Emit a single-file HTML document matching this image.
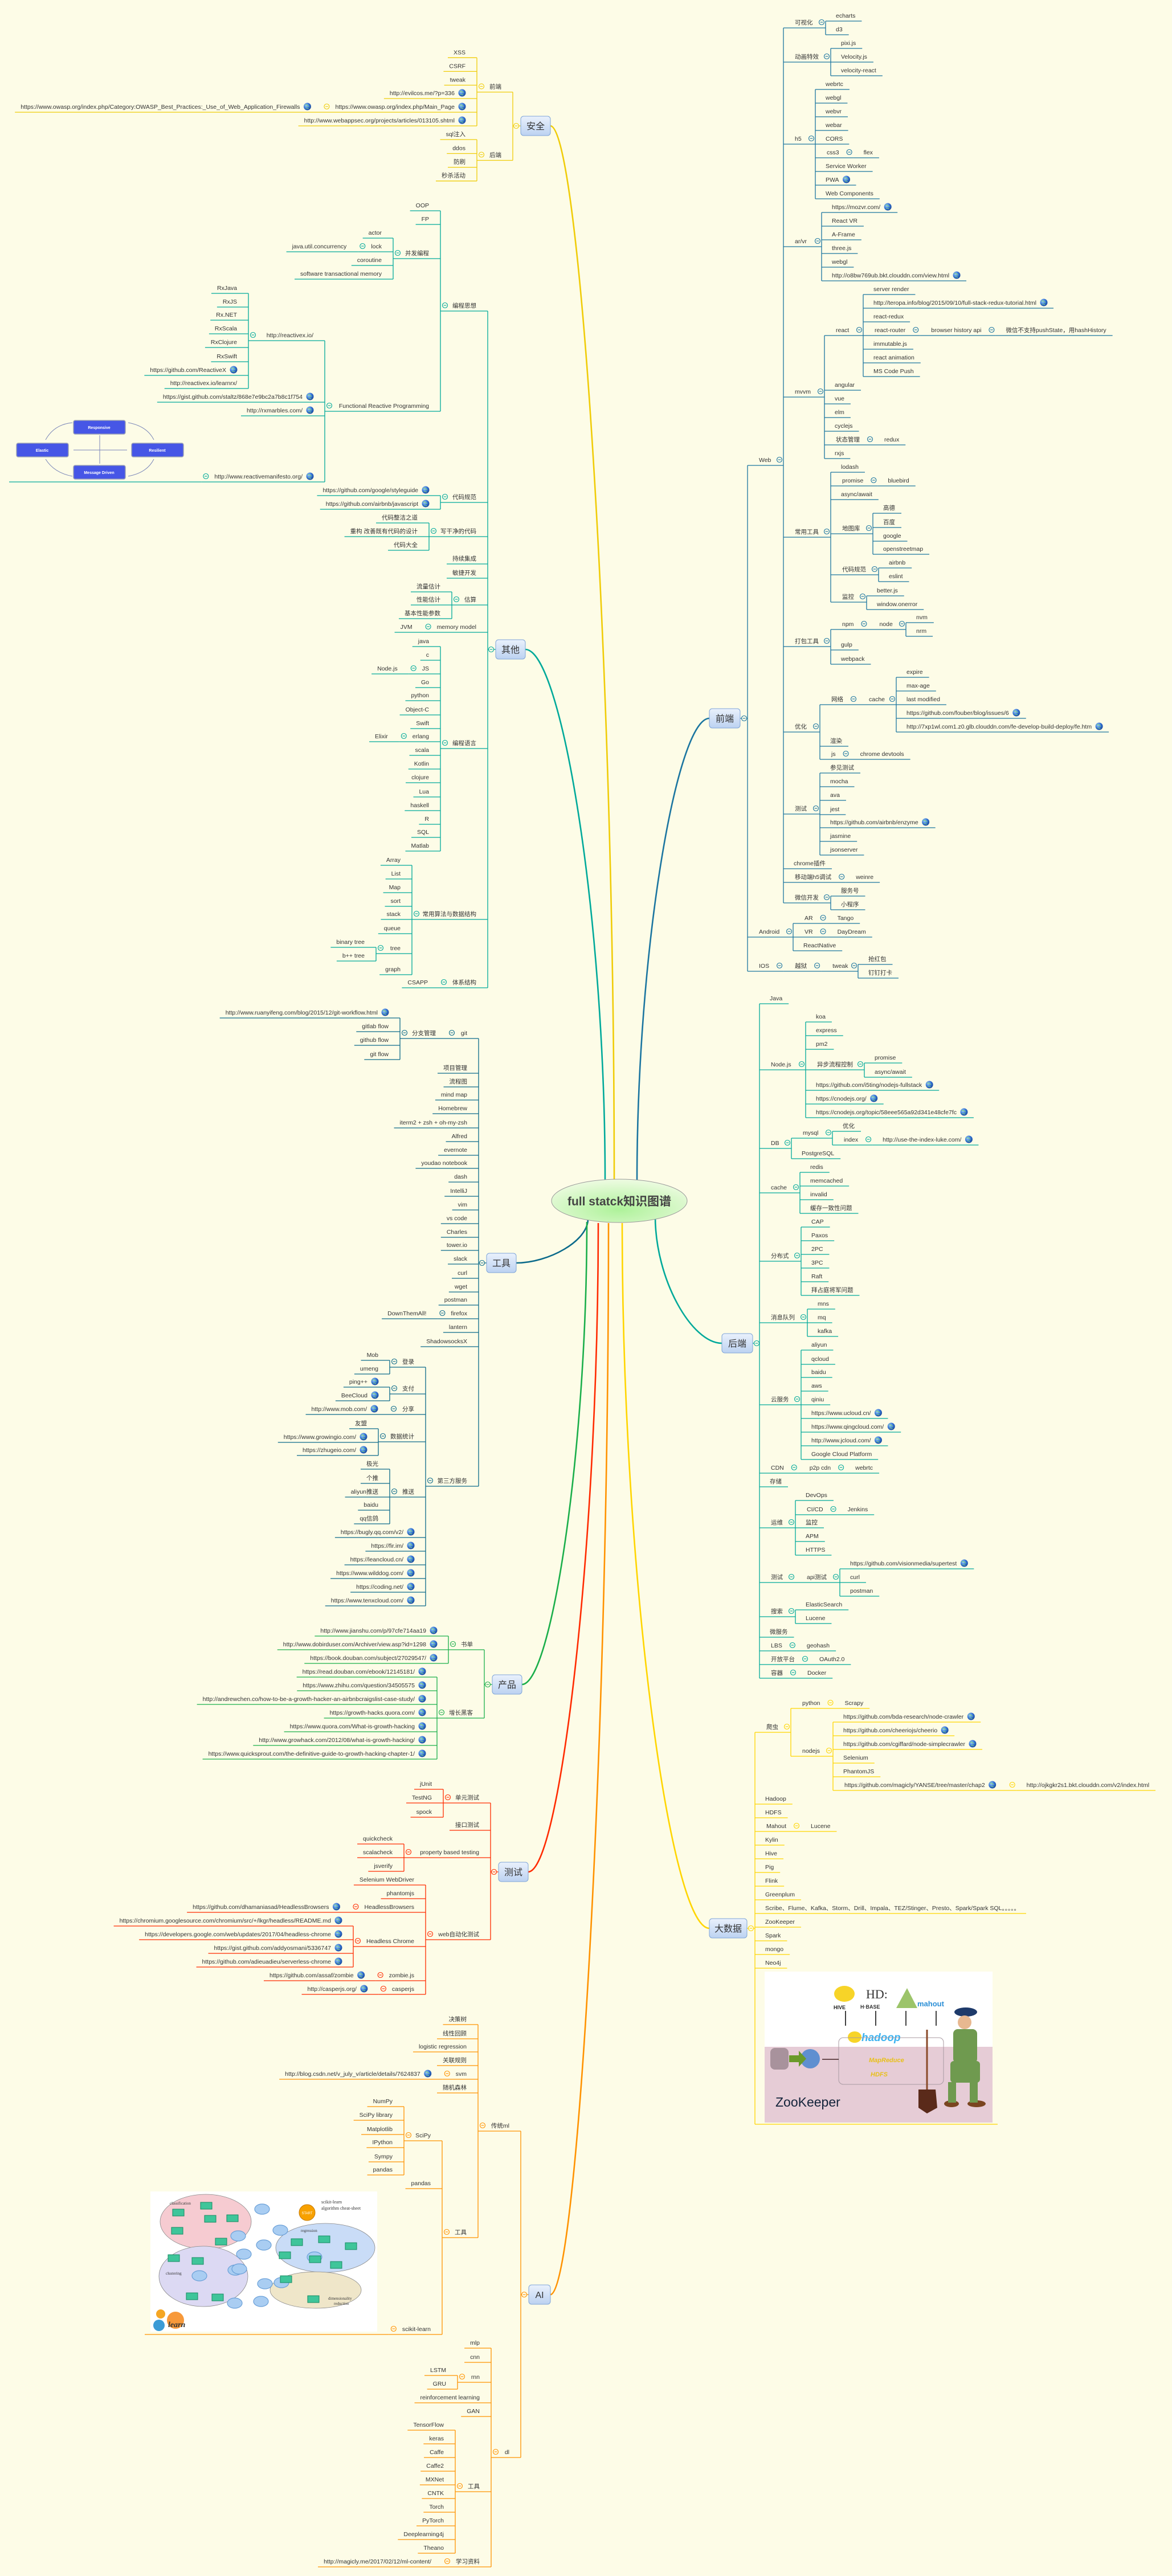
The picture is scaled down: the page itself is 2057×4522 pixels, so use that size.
<!DOCTYPE html>
<html><head><meta charset="utf-8">
<style>
html,body{margin:0;padding:0;background:#fdfce7;}
svg{display:block;}
.t{font-family:"Liberation Sans","Noto Sans CJK SC",sans-serif;font-size:10.5px;fill:#333;}
.m{font-family:"Liberation Sans","Noto Sans CJK SC",sans-serif;font-size:16px;fill:#333;}
</style></head>
<body>
<svg id="s" xmlns="http://www.w3.org/2000/svg" width="2057" height="4522" viewBox="0 0 2057 4522">
<defs>
<radialGradient id="gl" cx="0.35" cy="0.35" r="0.7"><stop offset="0" stop-color="#9fd0ff"/><stop offset="0.6" stop-color="#2f6fd0"/><stop offset="1" stop-color="#1c4a9a"/></radialGradient>
<linearGradient id="bx" x1="0" y1="0" x2="0" y2="1"><stop offset="0" stop-color="#eaf1fc"/><stop offset="1" stop-color="#bcd2f1"/></linearGradient>
<radialGradient id="cg" cx="0.5" cy="0.7" r="0.7"><stop offset="0" stop-color="#aef29a"/><stop offset="1" stop-color="#eefbe2"/></radialGradient>
</defs>
<rect width="2057" height="4522" fill="#fdfce7"/>
</svg>
<script>
const NS='http://www.w3.org/2000/svg';
const svg=document.getElementById('s');
function el(tag,a,p){const e=document.createElementNS(NS,tag);for(const k in a)e.setAttribute(k,a[k]);(p||svg).appendChild(e);return e;}
function tx(x,y,t,anchor,cls,extra){const e=el('text',Object.assign({x:x,y:y,class:cls||'t','text-anchor':anchor||'start'},extra||{}));e.textContent=t;return e;}
function N(t,y,k,b,g){return {t:t,y:y,k:k,b:b,g:g};}
function G(t,y){return {t:t,y:y,g:true};}
function measure(t){const e=tx(0,-100,t);const w=e.getComputedTextLength();e.remove();return w;}
function globe(x,y){el('circle',{cx:x,cy:y,r:6.5,fill:'url(#gl)'});el('path',{d:`M${x-4} ${y-2}q2 -2 4 0t3 2M${x-3} ${y+3}q2 -1 5 1`,stroke:'#7fd07f','stroke-width':1.2,fill:'none'});}
function icon(x,y,c){el('circle',{cx:x,cy:y,r:4.5,fill:'#fdfce7',stroke:c,'stroke-width':1.1});el('line',{x1:x-2.4,y1:y,x2:x+2.4,y2:y,stroke:c,'stroke-width':1.1});}
function hl(x1,x2,y,c){el('line',{x1:x1,x2:x2,y1:y,y2:y,stroke:c,'stroke-width':1.3});}
function vl(x,y1,y2,c){el('line',{x1:x,x2:x,y1:y1,y2:y2,stroke:c,'stroke-width':1.3});}

function draw(n,edge,side,c){
  const U=n.y+10;
  if(n.img){hl(Math.min(n.x1,edge),Math.max(n.x1,edge),U,c);n.img();return U;}
  const w=measure(n.t);const kids=n.k&&n.k.length;
  let xl,xr;
  if(side<0){
    xr=edge;const gw=n.g?19:0;const tr=xr-20-gw;const tl=tr-w;
    tx(tr,n.y+4,n.t,'end');
    if(n.g)globe(xr-26,n.y);
    if(kids){xl=(n.b!=null)?n.b:tl-23;icon(xl+8,n.y,c);}else xl=tl-10;
  }else{
    xl=edge;const tl=xl+(kids?20:18);tx(tl,n.y+4,n.t,'start');
    let after=tl+w;
    if(n.g){globe(after+13,n.y);after+=30;}else if(!kids)after+=11;
    if(kids){xr=(n.b!=null)?n.b:after+25;icon(xr-7,n.y,c);}else xr=after;
  }
  hl(xl,xr,U,c);
  if(kids){
    const bx=side<0?xl:xr;let mn=U,mx=U;
    for(const ch of n.k){const u=draw(ch,bx,side,c);mn=Math.min(mn,u);mx=Math.max(mx,u);}
    vl(bx,mn,mx,c);
  }
  return U;
}
function main(m){
  const [x1,y1,x2,y2]=m.box;const cy=(y1+y2)/2;
  const ex=m.side<0?x2:x1;
  const [sx,sy]=m.start;
  el('path',{d:`M${sx} ${sy} C${sx} ${(sy+cy)/2} ${ex+(sx-ex)*0.45} ${cy} ${ex} ${cy}`,stroke:m.c,'stroke-width':2.6,fill:'none'});
  let mn=cy,mx=cy;
  for(const ch of m.k){const u=draw(ch,m.edge,m.side,m.c);mn=Math.min(mn,u);mx=Math.max(mx,u);}
  vl(m.edge,mn,mx,m.c);
  const bx=m.side<0?x1:x2;
  hl(Math.min(bx,m.edge),Math.max(bx,m.edge),cy,m.c);
  el('rect',{x:x1,y:y1,width:x2-x1,height:y2-y1,rx:5,fill:'url(#bx)',stroke:'#7ea5d8','stroke-width':1});
  tx((x1+x2)/2,cy+6,m.t,'middle','m');
  icon(m.side<0?x1-8:x2+7,cy,m.c);
}

/* ---------- images ---------- */
function imgRM(){
  const g=el('g',{});
  const arc='#7a86b8';
  el('path',{d:'M80 772 Q95 745 127 742',stroke:arc,fill:'none','stroke-width':1},g);
  el('path',{d:'M225 742 Q258 748 270 772',stroke:arc,fill:'none','stroke-width':1},g);
  el('path',{d:'M80 806 Q95 830 127 836',stroke:arc,fill:'none','stroke-width':1},g);
  el('path',{d:'M225 836 Q258 830 270 806',stroke:arc,fill:'none','stroke-width':1},g);
  el('line',{x1:175,y1:764,x2:175,y2:814,stroke:arc,'stroke-width':1},g);
  el('line',{x1:129,y1:790,x2:223,y2:790,stroke:arc,'stroke-width':1},g);
  const bs=[[129,738,'Responsive'],[29,778,'Elastic'],[231,778,'Resilient'],[129,817,'Message Driven']];
  for(const b of bs){el('rect',{x:b[0],y:b[1],width:91,height:24,rx:3,fill:'#4656e6',stroke:'#9aa0b5','stroke-width':1.5},g);
    tx(b[0]+45,b[1]+15,b[2],'middle','t',{style:'font-size:7px;font-weight:bold;fill:#fff'});}
}
function imgSK(){
  el('rect',{x:264,y:3847,width:398,height:246,fill:'#ffffff'});
  el('ellipse',{cx:361,cy:3900,rx:80,ry:48,fill:'#f6cbd1',stroke:'#888','stroke-width':0.8});
  el('ellipse',{cx:357,cy:3996,rx:78,ry:53,fill:'#dcd9f3',stroke:'#888','stroke-width':0.8});
  el('ellipse',{cx:571,cy:3946,rx:87,ry:43,fill:'#c9dcf7',stroke:'#888','stroke-width':0.8});
  el('ellipse',{cx:554,cy:4020,rx:80,ry:32,fill:'#efe6c9',stroke:'#888','stroke-width':0.8});
  el('circle',{cx:539,cy:3884,r:14,fill:'#f8a100',stroke:'#c77a00'});
  tx(539,3887,'START','middle','t',{style:'font-size:6px;fill:#fff'});
  tx(564,3868,'scikit-learn','start','t',{style:'font-family:Liberation Serif,serif;font-size:8px'});
  tx(564,3879,'algorithm cheat-sheet','start','t',{style:'font-family:Liberation Serif,serif;font-size:8px'});
  tx(298,3870,'classification','start','t',{style:'font-family:Liberation Serif,serif;font-size:7px'});
  tx(291,3993,'clustering','start','t',{style:'font-family:Liberation Serif,serif;font-size:7px'});
  tx(528,3918,'regression','start','t',{style:'font-family:Liberation Serif,serif;font-size:7px'});
  tx(576,4037,'dimensionality','start','t',{style:'font-family:Liberation Serif,serif;font-size:7px'});
  tx(586,4046,'reduction','start','t',{style:'font-family:Liberation Serif,serif;font-size:7px'});
  const bl=[[460,3878],[492,3915],[463,3941],[428,3957],[418,3925],[350,3995],[413,3985],[412,4043],[458,4040],[465,4009],[494,4007],[552,3962],[420,3983]];
  for(const b of bl)el('ellipse',{cx:b[0],cy:b[1],rx:13,ry:9,fill:'#a9cdf2',stroke:'#6aa0d8','stroke-width':1.2});
  const gb=[[352,3866],[303,3878],[359,3889],[398,3888],[301,3910],[378,3929],[295,3958],[337,3963],[327,4025],[372,4027],[511,3930],[559,3925],[606,3937],[580,3970],[490,3953],[543,3960],[540,4030],[492,3995]];
  for(const b of gb)el('rect',{x:b[0],y:b[1],width:20,height:12,fill:'#3fc59a',stroke:'#148a60','stroke-width':1});
  el('circle',{cx:308,cy:4073,r:15,fill:'#f7993a'});
  el('circle',{cx:279,cy:4082,r:10,fill:'#3b9bd6'});
  el('circle',{cx:282,cy:4062,r:8,fill:'#f5a623'});
  tx(295,4085,'learn','start','t',{style:'font-family:Liberation Serif,serif;font-style:italic;font-weight:bold;font-size:14px;fill:#333'});
}
function imgZK(){
  el('rect',{x:1342,y:3461,width:400,height:132,fill:'#ffffff'});
  el('rect',{x:1342,y:3593,width:400,height:133,fill:'#e6ccd6'});
  tx(1361,3698,'ZooKeeper','start','t',{style:'font-size:23px;fill:#13233a'});
  tx(1463,3527,'HIVE','start','t',{style:'font-size:9px;font-weight:bold;fill:#222'});
  el('ellipse',{cx:1482,cy:3500,rx:18,ry:14,fill:'#f7d428'});
  tx(1510,3526,'H·BASE','start','t',{style:'font-size:9px;font-weight:bold;fill:#333'});
  tx(1520,3508,'HD:','start','t',{style:'font-size:22px;font-family:Liberation Serif,serif;fill:#333'});
  el('polygon',{points:'1573,3525 1610,3525 1592,3490',fill:'#9cc46a'});
  tx(1610,3522,'mahout','start','t',{style:'font-size:13px;font-weight:bold;fill:#2c8fd6'});
  for(const x of [1484,1537,1590,1643]){el('line',{x1:x,y1:3530,x2:x,y2:3556,stroke:'#000','stroke-width':1.5});}
  tx(1512,3583,'hadoop','start','t',{style:'font-size:19px;font-weight:bold;font-style:italic;fill:#3db3f0'});
  el('ellipse',{cx:1500,cy:3576,rx:12,ry:10,fill:'#f7d428'});
  el('rect',{x:1472,y:3577,width:184,height:82,rx:8,fill:'none',stroke:'#a89aa2'});
  tx(1525,3620,'MapReduce','start','t',{style:'font-size:11px;font-weight:bold;font-style:italic;fill:#e8c019'});
  tx(1528,3645,'HDFS','start','t',{style:'font-size:11px;font-weight:bold;font-style:italic;fill:#e8c019'});
  el('rect',{x:1352,y:3595,width:32,height:38,rx:8,fill:'#a8929c'});
  el('circle',{cx:1422,cy:3614,r:17,fill:'#5f8fd0'});
  el('polygon',{points:'1385,3608 1402,3608 1402,3600 1415,3614 1402,3628 1402,3620 1385,3620',fill:'#6a9a2a'});
  el('line',{x1:1443,y1:3615,x2:1472,y2:3615,stroke:'#200','stroke-width':1.3});
  el('line',{x1:1627,y1:3563,x2:1627,y2:3700,stroke:'#8a4a2a','stroke-width':3});
  el('path',{d:'M1612 3668 L1642 3668 L1645 3700 L1627 3710 L1612 3700Z',fill:'#5a2a1a'});
  el('ellipse',{cx:1695,cy:3532,rx:20,ry:8,fill:'#1e3a6a'});
  el('circle',{cx:1693,cy:3550,r:12,fill:'#e8b890'});
  el('rect',{x:1673,y:3562,width:42,height:60,rx:8,fill:'#6f9a4f'});
  el('rect',{x:1668,y:3618,width:52,height:38,rx:6,fill:'#6f9a4f'});
  el('ellipse',{cx:1670,cy:3693,rx:13,ry:6,fill:'#7a4520'});
  el('ellipse',{cx:1714,cy:3693,rx:16,ry:6,fill:'#7a4520'});
  el('rect',{x:1664,y:3655,width:14,height:36,fill:'#6f9a4f'});
  el('rect',{x:1702,y:3655,width:14,height:36,fill:'#6f9a4f'});
}

/* ---------- data ---------- */
const mains=[
{t:'安全',side:-1,box:[914,204,966,238],edge:900,c:'#f0cc08',start:[1078,2072],k:[
 N('前端',151.6,[N('XSS',91.3),N('CSRF',115.4),N('tweak',139.5),G('http://evilcos.me/?p=336',163),
   N('https://www.owasp.org/index.php/Main_Page',187,[G('https://www.owasp.org/index.php/Category:OWASP_Best_Practices:_Use_of_Web_Application_Firewalls',187)],null,true),
   G('http://www.webappsec.org/projects/articles/013105.shtml',211)],837),
 N('后端',271.5,[N('sql注入',235),N('ddos',259.5),N('防刷',283.6),N('秒杀活动',307.7)],837)
]},
{t:'其他',side:-1,box:[870,1123,922,1157],edge:856,c:'#00a99a',start:[1062,2072],k:[
 N('编程思想',536,[N('OOP',360),N('FP',384),
  N('并发编程',444,[N('actor',408),N('lock',432,[N('java.util.concurrency',432)]),N('coroutine',456),N('software transactional memory',480)],690),
  N('Functional Reactive Programming',712,[
   N('http://reactivex.io/',588,[N('RxJava',505),N('RxJS',529),N('Rx.NET',552),N('RxScala',576),N('RxClojure',600),N('RxSwift',625),G('https://github.com/ReactiveX',649),N('http://reactivex.io/learnrx/',672)],436),
   G('https://gist.github.com/staltz/868e7e9bc2a7b8c1f754',696),
   G('http://rxmarbles.com/',720),
   N('http://www.reactivemanifesto.org/',836,[{img:imgRM,y:836,x1:16}],null,true)
  ],570)
 ],773),
 N('代码规范',872,[G('https://github.com/google/styleguide',860),G('https://github.com/airbnb/javascript',884)],773),
 N('写干净的代码',932,[N('代码整洁之道',908),N('重构 改善既有代码的设计',932),N('代码大全',956)],753),
 N('持续集成',980),N('敏捷开发',1005),
 N('估算',1052,[N('流量估计',1029),N('性能估计',1052),N('基本性能参数',1076)],793),
 N('memory model',1100,[N('JVM',1100)]),
 N('编程语言',1304,[N('java',1125),N('c',1149),N('JS',1173,[N('Node.js',1173)]),N('Go',1197),N('python',1220),N('Object-C',1245),N('Swift',1269),N('erlang',1292,[N('Elixir',1292)]),N('scala',1316),N('Kotlin',1340),N('clojure',1364),N('Lua',1389),N('haskell',1413),N('R',1437),N('SQL',1460),N('Matlab',1484)],773),
 N('常用算法与数据结构',1604,[N('Array',1509),N('List',1533),N('Map',1557),N('sort',1581),N('stack',1604),N('queue',1629),N('tree',1664,[N('binary tree',1653),N('b++ tree',1677)],660),N('graph',1701)],723),
 N('体系结构',1724,[N('CSAPP',1724)])
]},
{t:'工具',side:-1,box:[854,2200,906,2234],edge:840,c:'#0b6a8a',start:[1032,2140],k:[
 N('git',1813,[N('分支管理',1813,[G('http://www.ruanyifeng.com/blog/2015/12/git-workflow.html',1777),N('gitlab flow',1801),N('github flow',1825),N('git flow',1850)],702)],785),
 N('项目管理',1874),N('流程图',1898),N('mind map',1921),N('Homebrew',1945),N('iterm2 + zsh + oh-my-zsh',1970),N('Alfred',1994),N('evernote',2018),N('youdao notebook',2041),N('dash',2065),N('IntelliJ',2090),N('vim',2114),N('vs code',2138),N('Charles',2162),N('tower.io',2185),N('slack',2209),N('curl',2234),N('wget',2258),N('postman',2281),N('firefox',2305,[N('DownThemAll!',2305)]),N('lantern',2329),N('ShadowsocksX',2354),
 N('第三方服务',2599,[
  N('登录',2390,[N('Mob',2378),N('umeng',2402)],684),
  N('支付',2437,[G('ping++',2425),G('BeeCloud',2449)],684),
  N('分享',2473,[G('http://www.mob.com/',2473)]),
  N('数据统计',2521,[N('友盟',2498),G('https://www.growingio.com/',2522),G('https://zhugeio.com/',2545)],664),
  N('推送',2618,[N('极光',2569),N('个推',2594),N('aliyun推送',2618),N('baidu',2641),N('qq信鸽',2665)],684),
  G('https://bugly.qq.com/v2/',2689),G('https://fir.im/',2713),G('https://leancloud.cn/',2737),G('https://www.wilddog.com/',2761),G('https://coding.net/',2785),G('https://www.tenxcloud.com/',2809)
 ],747)
]},
{t:'产品',side:-1,box:[864,2940,916,2974],edge:850,c:'#1aae4a',start:[1030,2145],k:[
 N('书单',2886,[G('http://www.jianshu.com/p/97cfe714aa19',2862),G('http://www.dobirduser.com/Archiver/view.asp?id=1298',2886),G('https://book.douban.com/subject/27029547/',2910)],787),
 N('增长黑客',3006,[G('https://read.douban.com/ebook/12145181/',2934),G('https://www.zhihu.com/question/34505575',2958),G('http://andrewchen.co/how-to-be-a-growth-hacker-an-airbnbcraigslist-case-study/',2982),G('https://growth-hacks.quora.com/',3006),G('https://www.quora.com/What-is-growth-hacking',3030),G('http://www.growhack.com/2012/08/what-is-growth-hacking/',3054),G('https://www.quicksprout.com/the-definitive-guide-to-growth-hacking-chapter-1/',3078)],767)
]},
{t:'测试',side:-1,box:[875,3269,927,3303],edge:861,c:'#ff2a00',start:[1050,2147],k:[
 N('单元测试',3155,[N('jUnit',3131),N('TestNG',3155),N('spock',3180)],778),
 N('接口测试',3203),
 N('property based testing',3251,[N('quickcheck',3227),N('scalacheck',3251),N('jsverify',3275)],709),
 N('web自动化测试',3395,[N('Selenium WebDriver',3299),N('phantomjs',3323),N('HeadlessBrowsers',3347,[G('https://github.com/dhamaniasad/HeadlessBrowsers',3347)]),
  N('Headless Chrome',3407,[G('https://chromium.googlesource.com/chromium/src/+/lkgr/headless/README.md',3371),G('https://developers.google.com/web/updates/2017/04/headless-chrome',3395),G('https://gist.github.com/addyosmani/5336747',3419),G('https://github.com/adieuadieu/serverless-chrome',3443)],620),
  N('zombie.js',3467,[G('https://github.com/assaf/zombie',3467)]),N('casperjs',3491,[G('http://casperjs.org/',3491)])],747)
]},
{t:'AI',side:-1,box:[928,4011,966,4045],edge:914,c:'#ff9200',start:[1068,2147],k:[
 N('传统ml',3731,[N('决策树',3544),N('线性回顾',3569),N('logistic regression',3592),N('关联规则',3616),N('svm',3640,[G('http://blog.csdn.net/v_july_v/article/details/7624837',3640)]),N('随机森林',3664),
  N('工具',3918,[N('SciPy',3748,[N('NumPy',3688),N('SciPy library',3712),N('Matplotlib',3737),N('IPython',3760),N('Sympy',3785),N('pandas',3808)],709),N('pandas',3832),N('scikit-learn',4088,[{img:imgSK,y:4088,x1:254}])],776)
 ],839),
 N('dl',4304,[N('mlp',4112),N('cnn',4137),N('rnn',4172,[N('LSTM',4160),N('GRU',4184)],803),N('reinforcement learning',4208),N('GAN',4232),
  N('工具',4364,[N('TensorFlow',4256),N('keras',4280),N('Caffe',4304),N('Caffe2',4328),N('MXNet',4352),N('CNTK',4376),N('Torch',4400),N('PyTorch',4424),N('Deeplearning4j',4448),N('Theano',4472)],799),
  N('学习资料',4496,[N('http://magicly.me/2017/02/12/ml-content/',4496)])],862)
]},
{t:'前端',side:1,box:[1245,1244,1299,1278],edge:1312,c:'#1b75a0',start:[1118,2072],k:[
 N('Web',807,[
  N('可视化',39,[N('echarts',27),N('d3',51)],1449),
  N('动画特效',99,[N('pixi.js',75),N('Velocity.js',99),N('velocity-react',123)],1458),
  N('h5',243,[N('webrtc',147),N('webgl',171),N('webvr',195),N('webar',219),N('CORS',243),N('css3',267,[N('flex',267)]),N('Service Worker',291),G('PWA',315),N('Web Components',339)],1431),
  N('ar/vr',423,[G('https://mozvr.com/',363),N('React VR',387),N('A-Frame',411),N('three.js',435),N('webgl',459),G('http://o8bw769ub.bkt.clouddn.com/view.html',483)],1442),
  N('mvvm',687,[
   N('react',579,[N('server render',507),G('http://teropa.info/blog/2015/09/10/full-stack-redux-tutorial.html',531),N('react-redux',555),N('react-router',579,[N('browser history api',579,[N('微信不支持pushState，用hashHistory',579)])]),N('immutable.js',603),N('react animation',627),N('MS Code Push',651)],1515),
   N('angular',675),N('vue',699),N('elm',723),N('cyclejs',747),N('状态管理',771,[N('redux',771)]),N('rxjs',795)
  ],1447),
  N('常用工具',933,[N('lodash',819),N('promise',843,[N('bluebird',843)]),N('async/await',867),
   N('地图库',927,[N('高德',891),N('百度',916),N('google',940),N('openstreetmap',963)],1532),
   N('代码规范',999,[N('airbnb',987),N('eslint',1011)],1542),
   N('监控',1047,[N('better.js',1036),N('window.onerror',1060)],1521)],1458),
  N('打包工具',1125,[N('npm',1095,[N('node',1095,[N('nvm',1083),N('nrm',1107)],1590)]),N('gulp',1131),N('webpack',1156)],1458),
  N('优化',1275,[N('网络',1227,[N('cache',1227,[N('expire',1179),N('max-age',1203),N('last modified',1227),G('https://github.com/fouber/blog/issues/6',1251),G('http://7xp1wl.com1.z0.glb.clouddn.com/fe-develop-build-deploy/fe.htm',1275)],1573)]),N('渲染',1300),N('js',1323,[N('chrome devtools',1323)])],1439),
  N('测试',1419,[N('参见测试',1347),N('mocha',1371),N('ava',1395),N('jest',1420),G('https://github.com/airbnb/enzyme',1443),N('jasmine',1467),N('jsonserver',1491)],1439),
  N('chrome插件',1515),
  N('移动端h5调试',1539,[N('weinre',1539)]),
  N('微信开发',1575,[N('服务号',1563),N('小程序',1587)],1458)
 ],1375),
 N('Android',1635,[N('AR',1611,[N('Tango',1611)]),N('VR',1635,[N('DayDream',1635)]),N('ReactNative',1659)],1392),
 N('IOS',1695,[N('越狱',1695,[N('tweak',1695,[N('抢红包',1683),N('钉钉打卡',1707)],1506)])])
]},
{t:'后端',side:1,box:[1267,2341,1321,2375],edge:1333,c:'#00a99a',start:[1150,2135],k:[
 N('Java',1752),
 N('Node.js',1868,[N('koa',1784),N('express',1808),N('pm2',1832),N('异步流程控制',1868,[N('promise',1856),N('async/await',1881)],1517),G('https://github.com/i5ting/nodejs-fullstack',1904),G('https://cnodejs.org/',1928),G('https://cnodejs.org/topic/58eee565a92d341e48cfe7fc',1952)],1414),
 N('DB',2006,[N('mysql',1988,[N('优化',1976),N('index',2000,[G('http://use-the-index-luke.com/',2000)])],1461),N('PostgreSQL',2024)],1389),
 N('cache',2084,[N('redis',2048),N('memcached',2072),N('invalid',2096),N('缓存一致性问题',2120)],1404),
 N('分布式',2204,[N('CAP',2144),N('Paxos',2168),N('2PC',2192),N('3PC',2216),N('Raft',2240),N('拜占庭将军问题',2264)],1406),
 N('消息队列',2312,[N('mns',2288),N('mq',2312),N('kafka',2336)],1417),
 N('云服务',2456,[N('aliyun',2360),N('qcloud',2385),N('baidu',2408),N('aws',2432),N('qiniu',2456),G('https://www.ucloud.cn/',2480),G('https://www.qingcloud.com/',2504),G('http://www.jcloud.com/',2528),N('Google Cloud Platform',2552)],1406),
 N('CDN',2576,[N('p2p cdn',2576,[N('webrtc',2576)])]),
 N('存储',2600),
 N('运维',2672,[N('DevOps',2624),N('CI/CD',2649,[N('Jenkins',2649)]),N('监控',2672),N('APM',2696),N('HTTPS',2720)],1396),
 N('测试',2768,[N('api测试',2768,[G('https://github.com/visionmedia/supertest',2744),N('curl',2768),N('postman',2792)],1474)],1396),
 N('搜索',2828,[N('ElasticSearch',2816),N('Lucene',2840)],1396),
 N('微服务',2864),
 N('LBS',2888,[N('geohash',2888)]),
 N('开放平台',2912,[N('OAuth2.0',2912)]),
 N('容器',2936,[N('Docker',2936)])
]},
{t:'大数据',side:1,box:[1245,3368,1311,3402],edge:1325,c:'#ffd500',start:[1092,2147],k:[
 N('爬虫',3031,[N('python',2989,[N('Scrapy',2989)]),
  N('nodejs',3073,[G('https://github.com/bda-research/node-crawler',3013),G('https://github.com/cheeriojs/cheerio',3037),G('https://github.com/cgiffard/node-simplecrawler',3061),N('Selenium',3085),N('PhantomJS',3109),N('https://github.com/magicly/YANSE/tree/master/chap2',3133,[N('http://ojkgkr2s1.bkt.clouddn.com/v2/index.html',3133)],null,true)],1462)
 ],1388),
 N('Hadoop',3157),N('HDFS',3181),N('Mahout',3205,[N('Lucene',3205)]),N('Kylin',3229),N('Hive',3253),N('Pig',3277),N('Flink',3301),N('Greenplum',3325),
 N('Scribe、Flume、Kafka、Storm、Drill、Impala、TEZ/Stinger、Presto、Spark/Spark SQL。。。。。',3349),
 N('ZooKeeper',3373),N('Spark',3397),N('mongo',3421),N('Neo4j',3445),
 {img:imgZK,y:3719,x1:1751}
]}
];
for(const m of mains)main(m);
/* centre */
el('ellipse',{cx:1087,cy:2108,rx:119,ry:38,fill:'url(#cg)',stroke:'#9a9a9a','stroke-width':1});
tx(1087,2116,'full statck知识图谱','middle','t',{style:'font-size:21px;font-weight:bold;fill:#444'});
</script>
</body></html>
